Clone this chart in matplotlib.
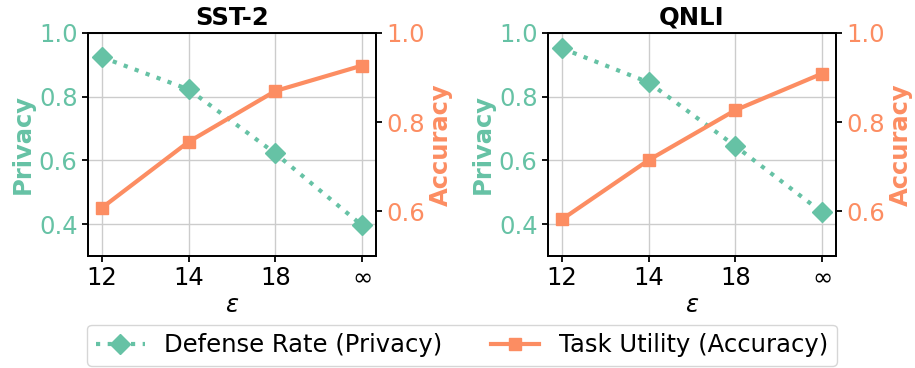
import matplotlib
matplotlib.use("Agg")
import matplotlib.pyplot as plt
from matplotlib.lines import Line2D

# Privacy budget settings shown on the x axis
eps_labels = ["12", "14", "18", "\u221e"]

datasets = ["SST-2", "QNLI"]

# Defense rate (privacy) per epsilon
privacy_sst2 = [0.924, 0.823, 0.622, 0.396]
privacy_qnli = [0.952, 0.845, 0.645, 0.437]

# Task accuracy per epsilon
accuracy_sst2 = [0.608, 0.756, 0.870, 0.927]
accuracy_qnli = [0.582, 0.715, 0.827, 0.909]

GREEN = "#66c2a5"
ORANGE = "#fc8d62"
FS = 17.5
DOTTED = (0, (1, 1.8))

plt.rcParams["font.family"] = ["DejaVu Sans"]
plt.rcParams["axes.linewidth"] = 1.3

fig = plt.figure(figsize=(9.15, 3.68), dpi=100)
W, H = 915, 368
panel_left = [88, 548]
panel_w = 288
top, bottom = 33, 256

series = [(privacy_sst2, accuracy_sst2), (privacy_qnli, accuracy_qnli)]
x = list(range(len(eps_labels)))

for i, name in enumerate(datasets):
    priv, acc = series[i]
    ax = fig.add_axes([panel_left[i] / W, 1 - bottom / H,
                       panel_w / W, (bottom - top) / H])
    ax2 = ax.twinx()

    ax.grid(True, color="#cccccc", linewidth=1.0)
    ax.set_axisbelow(True)

    ax.plot(x, priv, color=GREEN, linewidth=3, linestyle=DOTTED,
            marker="D", markersize=10, zorder=3)
    ax2.plot(x, acc, color=ORANGE, linewidth=3, linestyle="-",
             marker="s", markersize=8.5, zorder=3)

    ax.set_xlim(-0.16, 3.16)
    ax.set_ylim(0.3, 1.0)
    ax2.set_ylim(0.5, 1.0)
    ax.set_xticks(x)
    ax.set_xticklabels(eps_labels, fontsize=FS)
    ax.set_yticks([0.4, 0.6, 0.8, 1.0])
    ax2.set_yticks([0.6, 0.8, 1.0])
    ax.tick_params(axis="y", labelsize=FS, labelcolor=GREEN, width=1.3, length=4)
    ax2.tick_params(axis="y", labelsize=FS, labelcolor=ORANGE, width=1.3, length=4)
    ax.tick_params(axis="x", width=1.3, length=4)

    ax.set_ylabel("Privacy", color=GREEN, fontsize=FS, fontweight="bold", labelpad=3)
    ax2.set_ylabel("Accuracy", color=ORANGE, fontsize=FS, fontweight="bold", labelpad=3)
    ax.set_xlabel(r"$\epsilon$", fontsize=FS, labelpad=2)
    ax.set_title(name, fontsize=FS, fontweight="bold", pad=6)

handles = [
    Line2D([], [], color=GREEN, linewidth=3, linestyle=DOTTED,
           marker="D", markersize=10),
    Line2D([], [], color=ORANGE, linewidth=3, linestyle="-",
           marker="s", markersize=8.5),
]
fig.legend(handles, ["Defense Rate (Privacy)", "Task Utility (Accuracy)"],
           loc="lower center", bbox_to_anchor=(0.505, 0.0), ncol=2,
           fontsize=FS, frameon=True, borderaxespad=0.1, borderpad=0.35)

fig.savefig("out.png", dpi=100)
